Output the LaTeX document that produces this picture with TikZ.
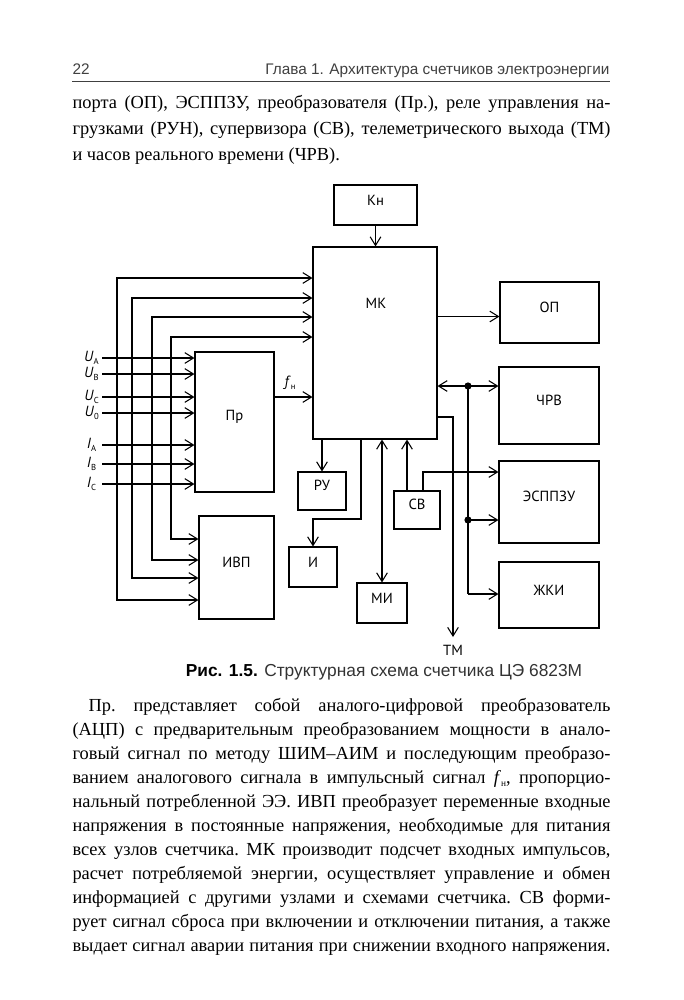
\documentclass[tikz,border=0pt]{standalone}
\usepackage{fontspec}
\setmainfont{Liberation Serif}
\newfontfamily\dsf{PT Sans}
\newfontfamily\hsf{Liberation Sans}
\usetikzlibrary{arrows.meta,fit}
\newlength\tw \setlength\tw{403.5pt}
\newcommand\jline[1]{\hbox to \tw{#1}}
\newcommand\bodyfont{\fontsize{13.8pt}{16pt}\selectfont\frenchspacing}
\newcommand\dlab{\dsf\fontsize{11pt}{13pt}\selectfont}
\newcommand\sbs[1]{\raisebox{-0.45ex}{\fontsize{6.5pt}{7pt}\selectfont #1}}
\begin{document}
\begin{tikzpicture}[x=0.75pt,y=-0.75pt,line width=0.8pt,
  box/.style={draw,inner sep=0pt,font=\dlab},
  tip/.tip={Straight Barb[length=6.5pt,width=8pt]},
  arr/.style={-tip},
  darr/.style={tip-tip},
  txt/.style={inner sep=0pt,anchor=base west,font=\bodyfont},
  lab/.style={inner sep=0pt,font=\dlab}]
\useasboundingbox[fill=white] (0,0) rectangle (683,1000);
% header
\node[inner sep=0pt,anchor=base west,font=\hsf\fontsize{11.5pt}{13pt}\selectfont,text=black!75] (pg) at (72,74) {22};
\node[inner sep=0pt,anchor=base east,font=\hsf\fontsize{11.5pt}{13pt}\selectfont,text=black!75] (hd) at (610,74) {Глава 1. Архитектура счетчиков электроэнергии};
\draw[line width=0.6pt,black!75] (72,81) coordinate (r1) -- (610,81) coordinate (r2);
% top paragraph
\node[txt] (a1) at (72,108) {\jline{порта (ОП), ЭСППЗУ, преобразователя (Пр.), реле управления на-}};
\node[txt] (a2) at (72,134) {\jline{грузками (РУН), супервизора (СВ), телеметрического выхода (ТМ)}};
\node[txt] (a3) at (72,160) {и часов реального времени (ЧРВ).};
% boxes
\node[box,fit={(334,185)(417,225)}] (kn) {Кн};
\node[box,fit={(313,247)(437,439)}] (mk) {};
\node[lab] (mkl) at (376,303) {МК};
\node[box,fit={(195,352)(274,492)}] (pr) {Пр};
\node[box,fit={(199,516)(274,619)}] (ivp) {ИВП};
\node[box,fit={(298,472)(346,510)}] (ru) {РУ};
\node[box,fit={(289,547)(337,587)}] (ii) {И};
\node[box,fit={(357,583)(407,623)}] (mi) {МИ};
\node[box,fit={(394,491)(440,529)}] (sv) {СВ};
\node[box,fit={(500,282)(599,343)}] (op) {ОП};
\node[box,fit={(499,367)(599,444)}] (chrv) {ЧРВ};
\node[box,fit={(499,461)(599,543)}] (esp) {ЭСППЗУ};
\node[box,fit={(499,562)(599,628)}] (zhki) {ЖКИ};
% Kn -> MK
\draw[arr] (kn.south) -- (kn.south |- mk.north);
% feed buses MK <- -> IVP
\coordinate (b1) at (117,278); \coordinate (b1e) at (117,600);
\coordinate (b2) at (132,298); \coordinate (b2e) at (132,578);
\coordinate (b3) at (152,317); \coordinate (b3e) at (152,560);
\coordinate (b4) at (171,337); \coordinate (b4e) at (171,539);
\draw[darr] (b1 -| mk.west) -- (b1) -- (b1e) -- (b1e -| ivp.west);
\draw[darr] (b2 -| mk.west) -- (b2) -- (b2e) -- (b2e -| ivp.west);
\draw[darr] (b3 -| mk.west) -- (b3) -- (b3e) -- (b3e -| ivp.west);
\draw[darr] (b4 -| mk.west) -- (b4) -- (b4e) -- (b4e -| ivp.west);
% inputs to Pr
\coordinate (ua) at (102,358); \coordinate (ub) at (102,374);
\coordinate (uc) at (102,397); \coordinate (u0) at (102,413);
\coordinate (ia) at (102,445); \coordinate (ib) at (102,464);
\coordinate (ic) at (102,484);
\foreach \p in {ua,ub,uc,u0,ia,ib,ic} \draw[arr] (\p) -- (\p -| pr.west);
\node[lab,anchor=east] (lua) at ([xshift=-2pt]ua) {\textit{U}\sbs{A}};
\node[lab,anchor=east] (lub) at ([xshift=-2pt]ub) {\textit{U}\sbs{B}};
\node[lab,anchor=east] (luc) at ([xshift=-2pt]uc) {\textit{U}\sbs{C}};
\node[lab,anchor=east] (lu0) at ([xshift=-2pt]u0) {\textit{U}\sbs{0}};
\node[lab,anchor=east] (lia) at ([xshift=-4pt]ia) {\textit{I}\sbs{A}};
\node[lab,anchor=east] (lib) at ([xshift=-4pt]ib) {\textit{I}\sbs{B}};
\node[lab,anchor=east] (lic) at ([xshift=-4pt]ic) {\textit{I}\sbs{C}};
% f_n
\coordinate (fn) at (274,397);
\draw[arr] (fn) -- (fn -| mk.west);
\node[lab] (lfn) at (290,383) {\textit{f}\sbs{н}};
% MK -> RU
\draw[arr] (ru.north |- mk.south) -- (ru.north);
% MK -> I
\coordinate (c1) at (361,519);
\draw[arr] (c1 |- mk.south) -- (c1) -- (c1 -| ii.north) -- (ii.north);
% MK <-> MI
\draw[darr] (mi.north |- mk.south) -- (mi.north);
% SV -> MK
\coordinate (s1) at (407,491);
\draw[arr] (s1) -- (s1 |- mk.south);
\coordinate (s2) at (423,491); \coordinate (s3) at (423,472);
\draw[arr] (s2) -- (s3) -- (s3 -| esp.west);
% MK -> OP
\coordinate (o1) at (437,316.5);
\draw[arr] (o1) -- (o1 -| op.west);
% MK <-> CHRV, bus
\coordinate (d1) at (468,386); \coordinate (d2) at (468,520); \coordinate (d3) at (468,594);
\draw[darr] (d1 -| mk.east) -- (d1 -| chrv.west);
\draw (d1) -- (d3);
\draw[arr] (d3) -- (d3 -| zhki.west);
\draw[arr] (d2) -- (d2 -| esp.west);
\fill (d1) circle (2.7pt);
\fill (d2) circle (2.7pt);
% TM
\coordinate (t1) at (453,417); \coordinate (tm) at (453,637);
\draw[arr] (t1 -| mk.east) -- (t1) -- (tm);
\node[lab] (ltm) at (453,650) {ТМ};
% caption
\node[inner sep=0pt,font=\hsf\fontsize{13pt}{15pt}\selectfont] (cap) at (384,672) {\textbf{Рис. 1.5.} {\color{black!80}Структурная схема счетчика ЦЭ 6823М}};
% bottom paragraph
\node[txt] (p1) at (72,711) {\jline{\hspace*{12pt}Пр. представляет собой аналого-цифровой преобразователь}};
\node[txt] (p2) at (72,735) {\jline{(АЦП) с предварительным преобразованием мощности в анало-}};
\node[txt] (p3) at (72,759) {\jline{говый сигнал по методу ШИМ–АИМ и последующим преобразо-}};
\node[txt] (p4) at (72,783) {\jline{ванием аналогового сигнала в импульсный сигнал \textit{f}\raisebox{-0.4ex}{\fontsize{7pt}{8pt}\selectfont н}, пропорцио-}};
\node[txt] (p5) at (72,807) {\jline{нальный потребленной ЭЭ. ИВП преобразует переменные входные}};
\node[txt] (p6) at (72,831) {\jline{напряжения в постоянные напряжения, необходимые для питания}};
\node[txt] (p7) at (72,855) {\jline{всех узлов счетчика. МК производит подсчет входных импульсов,}};
\node[txt] (p8) at (72,879) {\jline{расчет потребляемой энергии, осуществляет управление и обмен}};
\node[txt] (p9) at (72,903) {\jline{информацией с другими узлами и схемами счетчика. СВ форми-}};
\node[txt] (p10) at (72,927) {\jline{рует сигнал сброса при включении и отключении питания, а также}};
\node[txt] (p11) at (72,951) {\jline{выдает сигнал аварии питания при снижении входного напряжения.}};
\end{tikzpicture}
\end{document}
